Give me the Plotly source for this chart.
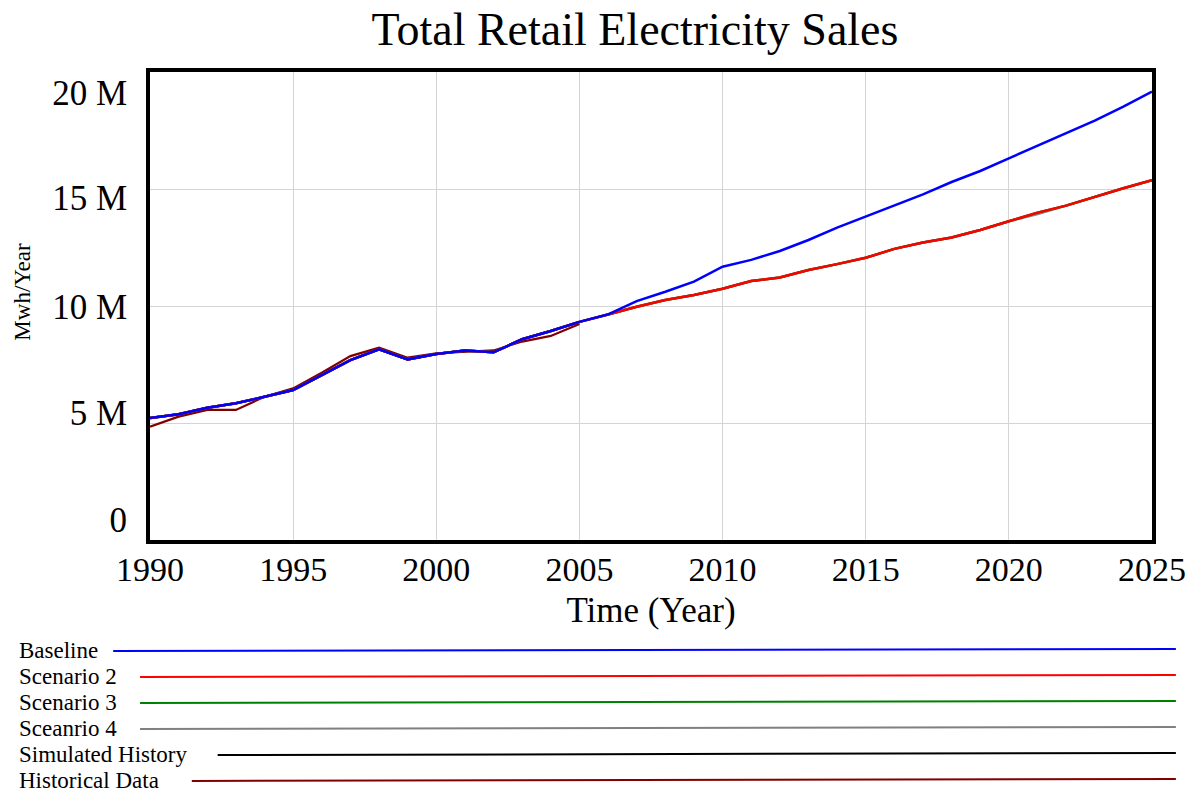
import plotly.graph_objects as go

years = list(range(1990, 2026))
hist_years = list(range(1990, 2006))

baseline = [5.21, 5.37, 5.65, 5.84, 6.12, 6.41, 7.05, 7.69, 8.15, 7.72, 7.95, 8.10,
            8.02, 8.58, 8.93, 9.32, 9.64, 10.21, 10.61, 11.04, 11.68, 11.97, 12.35,
            12.82, 13.35, 13.82, 14.29, 14.77, 15.30, 15.77, 16.31, 16.85, 17.38,
            17.92, 18.52, 19.16]
scenario2 = [5.21, 5.37, 5.65, 5.84, 6.12, 6.41, 7.05, 7.69, 8.15, 7.72, 7.95, 8.10,
             8.02, 8.58, 8.93, 9.32, 9.64, 9.97, 10.26, 10.47, 10.74, 11.07, 11.22,
             11.54, 11.79, 12.06, 12.44, 12.71, 12.93, 13.25, 13.62, 13.99, 14.29,
             14.67, 15.03, 15.38]
scenario3 = [5.21, 5.37, 5.65, 5.84, 6.12, 6.41, 7.05, 7.69, 8.15, 7.72, 7.95, 8.10,
             8.02, 8.58, 8.93, 9.32, 9.64, 9.97, 10.26, 10.47, 10.74, 11.07, 11.22,
             11.54, 11.79, 12.06, 12.44, 12.71, 12.93, 13.25, 13.62, 13.99, 14.29,
             14.67, 15.03, 15.38]
scenario4 = [5.21, 5.37, 5.65, 5.84, 6.12, 6.41, 7.05, 7.69, 8.15, 7.72, 7.95, 8.10,
             8.02, 8.58, 8.93, 9.32, 9.64, 9.97, 10.26, 10.47, 10.74, 11.07, 11.22,
             11.54, 11.79, 12.06, 12.44, 12.71, 12.93, 13.25, 13.62, 13.93, 14.29,
             14.67, 15.03, 15.38]
simulated_history = [5.21, 5.37, 5.65, 5.84, 6.12, 6.41, 7.05, 7.69, 8.15, 7.72,
                     7.95, 8.10, 8.02, 8.58, 8.93, 9.32]
historical_data = [4.84, 5.27, 5.56, 5.56, 6.12, 6.48, 7.15, 7.86, 8.22, 7.79,
                   7.98, 8.05, 8.10, 8.48, 8.72, 9.23]

series_names = ["Baseline", "Scenario 2", "Scenario 3", "Sceanrio 4",
                "Simulated History", "Historical Data"]
series_colors = ["#0000ff", "#ff0000", "#008000", "#808080", "#000000", "#800000"]

x_ticks = [1990, 1995, 2000, 2005, 2010, 2015, 2020, 2025]
y_grid = [0, 5e6, 10e6, 15e6, 20e6]
y_label_text = ["0", "5 M", "10 M", "15 M", "20 M"]
y_label_pos = [0.85e6, 5.43e6, 9.96e6, 14.62e6, 19.10e6]

M = 1e6
data_map = {
    "Baseline": (years, baseline),
    "Scenario 2": (years, scenario2),
    "Scenario 3": (years, scenario3),
    "Sceanrio 4": (years, scenario4),
    "Simulated History": (hist_years, simulated_history),
    "Historical Data": (hist_years, historical_data),
}
widths = {"Baseline": 2.5, "Scenario 2": 2.5, "Scenario 3": 2.5, "Sceanrio 4": 2.5,
          "Simulated History": 2.5, "Historical Data": 2.2}
draw_order = ["Historical Data", "Simulated History", "Sceanrio 4", "Scenario 3",
              "Scenario 2", "Baseline"]

fig = go.Figure()
for name in draw_order:
    xs, ys = data_map[name]
    col = series_colors[series_names.index(name)]
    fig.add_trace(go.Scatter(x=xs, y=[v * M for v in ys], mode="lines", name=name,
                             line=dict(color=col, width=widths[name]),
                             showlegend=False, hoverinfo="skip"))
# invisible trace carrying the second y axis (tick labels)
fig.add_trace(go.Scatter(x=[1990], y=[0], yaxis="y2", mode="markers",
                         marker=dict(opacity=0), showlegend=False, hoverinfo="skip"))

font_fam = "Liberation Serif, Times New Roman, serif"

# plot area in pixels
L, R, T, B = 150, 1157, 72, 540
W, H = R - L, B - T


def px_x(x):
    return (x - L) / W


def px_y(y):
    return (B - y) / H


# legend: labels with lines below plot
legend_text_y = [650, 676, 702, 728, 754, 780]
legend_line_x0 = [113, 140, 140, 140, 218, 192]
legend_line_x1 = 1181
annotations = []
shapes = []
for i, name in enumerate(series_names):
    annotations.append(dict(text=name, x=px_x(16), y=px_y(legend_text_y[i]),
                            xref="paper", yref="paper", xanchor="left",
                            yanchor="middle", showarrow=False,
                            font=dict(family=font_fam, size=23, color="black")))
    shapes.append(dict(type="line", xref="paper", yref="paper",
                       x0=px_x(legend_line_x0[i]), y0=px_y(legend_text_y[i] + 1),
                       x1=px_x(legend_line_x1), y1=px_y(legend_text_y[i] - 1),
                       line=dict(color=series_colors[i], width=2)))

# y axis title
annotations.append(dict(text="Mwh/Year", x=px_x(21), y=px_y(292), xref="paper",
                        yref="paper", textangle=-90, showarrow=False,
                        xanchor="center", yanchor="middle",
                        font=dict(family=font_fam, size=23, color="black")))

fig.update_layout(
    width=1198, height=797,
    margin=dict(l=L, r=1198 - R, t=T, b=797 - B),
    paper_bgcolor="white", plot_bgcolor="white",
    title=dict(text="Total Retail Electricity Sales", x=635 / 1198,
               xanchor="center", y=1 - 29 / 797, yanchor="middle", yref="container",
               font=dict(family=font_fam, size=46, color="black")),
    xaxis=dict(range=[1990, 2025], tickvals=x_ticks, ticktext=[str(t) for t in x_ticks],
               showgrid=True, gridcolor="#d4d4d4", gridwidth=1, zeroline=False,
               showline=True, linecolor="black", linewidth=4, mirror=True,
               ticks="", ticklabelstandoff=-4,
               tickfont=dict(family=font_fam, size=34, color="black"),
               title=dict(text="Time (Year)", standoff=12,
                          font=dict(family=font_fam, size=35, color="black"))),
    yaxis=dict(range=[0, 20e6], tickvals=y_grid, showticklabels=False,
               showgrid=True, gridcolor="#d4d4d4", gridwidth=1, zeroline=False,
               showline=True, linecolor="black", linewidth=4, mirror=True, ticks=""),
    yaxis2=dict(range=[0, 20e6], overlaying="y", side="left", tickvals=y_label_pos,
                ticktext=y_label_text, showgrid=False, zeroline=False, showline=False,
                ticks="", ticklabelstandoff=22,
                tickfont=dict(family=font_fam, size=35, color="black")),
    annotations=annotations,
    shapes=shapes,
)

fig.write_html("out.html", config={"displayModeBar": False},
               post_script="document.body.style.margin='0';"
                           "document.body.style.overflow='hidden';")
